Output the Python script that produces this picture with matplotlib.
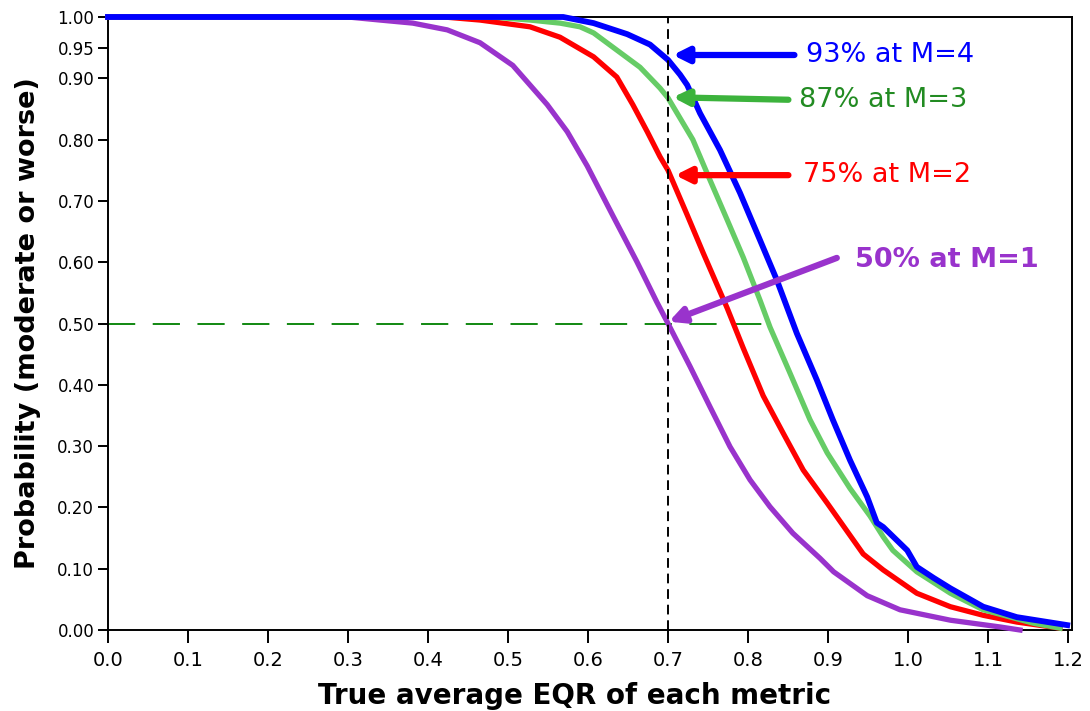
import matplotlib
matplotlib.use("Agg")
import matplotlib.pyplot as plt

# ---- data ----
m1_x = [0.0, 0.30, 0.34, 0.381, 0.424, 0.465, 0.506, 0.549, 0.574, 0.599, 0.631, 0.661,
        0.686, 0.70, 0.7275, 0.7525, 0.7775, 0.8025, 0.8275, 0.856, 0.89, 0.907,
        0.949, 0.99, 1.053, 1.115, 1.14]
m1_y = [1.0, 1.0, 0.995, 0.99, 0.979, 0.958, 0.921, 0.857, 0.813, 0.757, 0.676, 0.601,
        0.535, 0.50, 0.43, 0.364, 0.299, 0.245, 0.201, 0.158, 0.117, 0.095,
        0.056, 0.033, 0.016, 0.005, 0.0]

m2_x = [0.0, 0.42, 0.465, 0.5275, 0.565, 0.607, 0.636, 0.656, 0.674, 0.69, 0.70, 0.724,
        0.744, 0.774, 0.794, 0.819, 0.844, 0.869, 0.899, 0.944, 0.969, 1.011, 1.053,
        1.094, 1.136, 1.19]
m2_y = [1.0, 1.0, 0.995, 0.984, 0.967, 0.935, 0.902, 0.857, 0.813, 0.772, 0.75, 0.677,
        0.615, 0.525, 0.46, 0.382, 0.321, 0.261, 0.207, 0.124, 0.098, 0.06, 0.038,
        0.024, 0.013, 0.003]

m3_x = [0.0, 0.48, 0.5275, 0.565, 0.59, 0.607, 0.636, 0.665, 0.69, 0.70, 0.731, 0.7525,
        0.774, 0.794, 0.815, 0.8275, 0.8525, 0.8775, 0.899, 0.9275, 0.9525, 0.969, 0.981,
        1.011, 1.053, 1.094, 1.157, 1.19]
m3_y = [1.0, 1.0, 0.995, 0.99, 0.984, 0.974, 0.946, 0.918, 0.884, 0.868, 0.80, 0.734,
        0.669, 0.608, 0.538, 0.494, 0.419, 0.343, 0.289, 0.231, 0.186, 0.152, 0.13,
        0.095, 0.06, 0.033, 0.011, 0.003]

m4_x = [0.0, 0.54, 0.569, 0.607, 0.649, 0.6775, 0.70, 0.715, 0.724, 0.74, 0.765, 0.79,
        0.815, 0.836, 0.861, 0.886, 0.906, 0.9275, 0.949, 0.961, 0.969, 0.999, 1.011,
        1.032, 1.053, 1.094, 1.136, 1.199]
m4_y = [1.0, 1.0, 1.0, 0.99, 0.972, 0.955, 0.93, 0.906, 0.889, 0.843, 0.783, 0.713,
        0.636, 0.571, 0.484, 0.408, 0.343, 0.277, 0.217, 0.175, 0.168, 0.13, 0.103,
        0.085, 0.068, 0.038, 0.021, 0.008]

x_ticks = [0.0, 0.1, 0.2, 0.3, 0.4, 0.5, 0.6, 0.7, 0.8, 0.9, 1.0, 1.1, 1.2]
y_ticks = [0.0, 0.1, 0.2, 0.3, 0.4, 0.5, 0.6, 0.7, 0.8, 0.9, 0.95, 1.0]

labels = ["50% at M=1", "75% at M=2", "87% at M=3", "93% at M=4"]
ref_x = 0.7
ref_y = 0.5

# ---- figure ----
plt.rcParams['font.family'] = ['DejaVu Sans']
fig = plt.figure(figsize=(10.9, 7.11), dpi=100)
ax = fig.add_axes([0.0991, 0.1139, 0.8844, 0.8622])

c_purple = "#9933CC"
c_red = "#FF0000"
c_green = "#66CC66"
c_blue = "#0000FF"

ax.plot(m1_x, m1_y, color=c_purple, lw=3.8, solid_joinstyle="round", zorder=3, clip_on=False)
ax.plot(m2_x, m2_y, color=c_red, lw=3.8, solid_joinstyle="round", zorder=4, clip_on=False)
ax.plot(m3_x, m3_y, color=c_green, lw=3.8, solid_joinstyle="round", zorder=5, clip_on=False)
ax.plot(m4_x, m4_y, color=c_blue, lw=4.2, solid_joinstyle="round", zorder=6, clip_on=False)

# reference lines
ax.plot([ref_x, ref_x], [0, 1.0], color="black", lw=1.4, ls=(0, (5, 3)), zorder=7)
ax.plot([0, 0.83], [ref_y, ref_y], color="#118811", lw=1.4, ls=(0, (14, 9)), zorder=2)

# annotations
def arrow(tail, head, color):
    ax.annotate("", xy=head, xytext=tail,
                arrowprops=dict(arrowstyle="-|>,head_length=0.9,head_width=0.45",
                                color=color, lw=4.5, shrinkA=0, shrinkB=0),
                zorder=8)

arrow((0.858, 0.938), (0.706, 0.938), c_blue)
ax.text(0.872, 0.938, labels[3], color=c_blue, fontsize=19.5, va="center", ha="left")

arrow((0.8505, 0.865), (0.706, 0.869), "#3CB33C")
ax.text(0.864, 0.865, labels[2], color="#228B22", fontsize=19.5, va="center", ha="left")

arrow((0.8505, 0.742), (0.709, 0.742), c_red)
ax.text(0.869, 0.742, labels[1], color=c_red, fontsize=19.5, va="center", ha="left")

arrow((0.911, 0.607), (0.701, 0.503), c_purple)
ax.text(0.934, 0.603, labels[0], color=c_purple, fontsize=19.5, fontweight="bold",
        va="center", ha="left")

ax.set_xlim(0, 1.205)
ax.set_ylim(0, 1.0)
ax.set_xticks(x_ticks)
ax.set_xticklabels([f"{v:.1f}" for v in x_ticks], fontsize=14)
ax.set_yticks(y_ticks)
ax.set_yticklabels([f"{v:.2f}" for v in y_ticks], fontsize=12)
ax.tick_params(axis="x", length=9, width=1.4, direction="out", pad=6)
ax.tick_params(axis="y", length=7, width=1.4, direction="out", pad=3)
for s in ax.spines.values():
    s.set_linewidth(1.4)

ax.set_xlabel("True average EQR of each metric", fontsize=20, fontweight="bold", labelpad=9)
ax.set_ylabel("Probability (moderate or worse)", fontsize=19.5, fontweight="bold", labelpad=12)
ax.xaxis.set_label_coords(0.484, -0.085)

fig.savefig("out.png", dpi=100)
